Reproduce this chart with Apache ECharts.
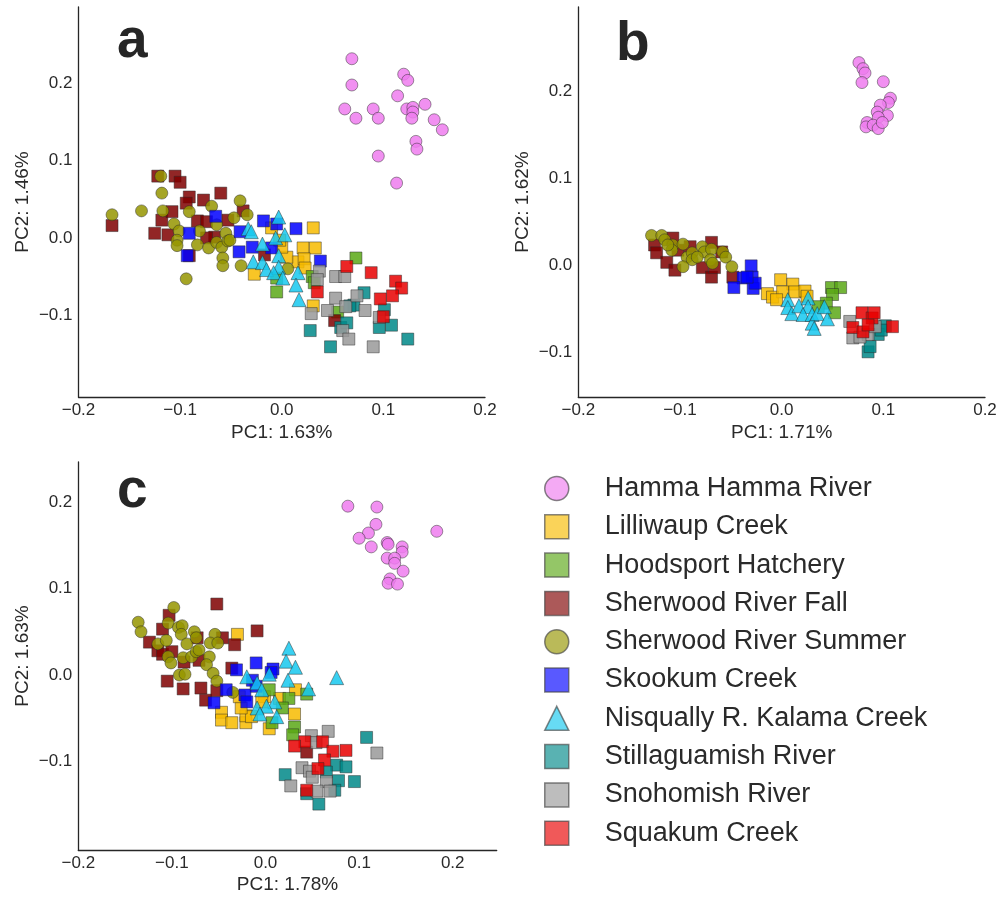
<!DOCTYPE html>
<html><head><meta charset="utf-8">
<script src="https://cdn.jsdelivr.net/npm/echarts@6/dist/echarts.min.js"></script>
<style>html,body{margin:0;padding:0;background:#fff}#c{width:1000px;height:898px}</style>
</head><body><div id="c"></div>
<script>
const groups = ['Hamma Hamma River','Lilliwaup Creek','Hoodsport Hatchery','Sherwood River Fall','Sherwood River Summer','Skookum Creek','Nisqually R. Kalama Creek','Stillaguamish River','Snohomish River','Squakum Creek'];
const groupColors = ['#ee7cee','#f7bb00','#5aa816','#7f0000','#959500','#0000ff','#16c8ee','#008888','#999999','#e80000'];
const groupSymbols = ['circle','rect','rect','rect','circle','rect','triangle','rect','rect','rect'];
const xTicks = [-0.2,-0.1,0,0.1,0.2];
const yTicks = [-0.1,0,0.1,0.2];
const panelLetters = ['a','b','c'];
const xNames = ['PC1: 1.63%','PC1: 1.71%','PC1: 1.78%'];
const yNames = ['PC2: 1.46%','PC2: 1.62%','PC2: 1.63%'];

// ---- panel a ----
const aHamma = [[0.069,0.232],[0.069,0.198],[0.120,0.212],[0.124,0.204],[0.114,0.184],[0.062,0.167],[0.073,0.155],[0.090,0.167],[0.095,0.155],[0.123,0.167],[0.129,0.169],[0.129,0.163],[0.128,0.155],[0.141,0.173],[0.150,0.153],[0.158,0.140],[0.132,0.125],[0.133,0.115],[0.095,0.106],[0.113,0.071]];
const aLilliwaup = [[0.031,0.013],[-0.010,0.013],[0.021,-0.013],[0.033,-0.013],[0.016,-0.031],[0.022,-0.027],[0.005,-0.025],[0.000,-0.012],[-0.027,-0.047],[0.031,-0.088],[0.023,-0.039],[-0.002,-0.003]];
const aHoodsport = [[0.073,-0.026],[-0.005,-0.070],[0.030,-0.050],[0.032,-0.058],[0.055,-0.096],[-0.005,-0.052]];
const aSherwoodFall = [[-0.122,0.080],[-0.105,0.080],[-0.100,0.072],[-0.091,0.053],[-0.077,0.049],[-0.060,0.058],[-0.167,0.016],[-0.118,0.023],[-0.108,0.034],[-0.125,0.006],[-0.112,0.004],[-0.083,0.022],[-0.074,0.021],[-0.053,0.023],[-0.066,0.001],[-0.074,0.000],[-0.094,0.045],[-0.091,-0.023],[-0.038,0.035],[-0.017,-0.022],[0.052,-0.107]];
const aSherwoodSummer = [[-0.119,0.080],[-0.118,0.058],[-0.138,0.035],[-0.167,0.030],[-0.117,0.035],[-0.091,0.034],[-0.106,0.018],[-0.101,0.009],[-0.103,-0.003],[-0.103,-0.010],[-0.081,0.009],[-0.083,-0.009],[-0.072,-0.013],[-0.069,0.041],[-0.064,0.017],[-0.064,-0.006],[-0.059,-0.012],[-0.055,0.006],[-0.053,-0.004],[-0.047,0.026],[-0.041,0.048],[-0.034,0.030],[-0.058,-0.026],[-0.058,-0.036],[-0.040,-0.036],[-0.094,-0.053],[0.006,-0.040],[-0.051,-0.003]];
const aSkookum = [[-0.065,0.028],[-0.091,0.006],[-0.041,0.008],[-0.018,0.022],[-0.005,0.018],[0.014,0.012],[-0.029,-0.012],[-0.042,-0.018],[-0.093,-0.023],[-0.010,-0.013],[0.038,-0.030]];
const aNisqually = [[-0.003,0.027],[-0.033,0.012],[-0.030,0.008],[-0.019,-0.008],[-0.006,0.000],[0.003,0.004],[-0.003,-0.023],[-0.028,-0.031],[-0.019,-0.032],[-0.015,-0.041],[-0.003,-0.038],[-0.008,-0.045],[0.001,-0.052],[0.016,-0.045],[0.014,-0.061],[0.017,-0.080]];
const aStillaguamish = [[0.081,-0.071],[0.071,-0.087],[0.067,-0.088],[0.101,-0.093],[0.028,-0.120],[0.058,-0.116],[0.064,-0.110],[0.048,-0.141],[0.096,-0.116],[0.108,-0.113],[0.124,-0.131]];
const aSnohomish = [[0.053,-0.050],[0.062,-0.050],[0.037,-0.043],[0.035,-0.054],[0.053,-0.078],[0.045,-0.094],[0.029,-0.098],[0.063,-0.089],[0.074,-0.075],[0.082,-0.094],[0.060,-0.120],[0.066,-0.131],[0.090,-0.141],[0.096,-0.103]];
const aSquakum = [[0.064,-0.037],[0.088,-0.045],[0.112,-0.056],[0.118,-0.065],[0.109,-0.075],[0.097,-0.079],[0.035,-0.070],[0.100,-0.102]];

// ---- panel b ----
const bHamma = [[0.076,0.233],[0.080,0.226],[0.082,0.221],[0.079,0.210],[0.100,0.211],[0.107,0.192],[0.105,0.187],[0.097,0.184],[0.094,0.176],[0.104,0.172],[0.095,0.170],[0.084,0.164],[0.083,0.159],[0.090,0.161],[0.095,0.157],[0.099,0.164]];
const bLilliwaup = [[-0.001,-0.017],[0.011,-0.022],[-0.014,-0.033],[-0.009,-0.037],[0.001,-0.031],[0.013,-0.031],[0.023,-0.030],[0.025,-0.036],[-0.005,-0.040]];
const bHoodsport = [[0.049,-0.026],[0.058,-0.026],[0.050,-0.034],[0.044,-0.044],[0.052,-0.055],[0.036,-0.048]];
const bSherwoodFall = [[-0.125,0.023],[-0.123,0.014],[-0.113,0.003],[-0.105,-0.006],[-0.107,0.031],[-0.102,0.017],[-0.090,0.021],[-0.078,-0.003],[-0.069,0.026],[-0.069,-0.014],[-0.059,0.015],[-0.066,-0.003],[-0.048,-0.014]];
const bSherwoodSummer = [[-0.128,0.034],[-0.118,0.034],[-0.115,0.029],[-0.107,0.023],[-0.108,0.017],[-0.097,0.024],[-0.093,0.009],[-0.088,0.014],[-0.088,0.006],[-0.097,-0.002],[-0.078,0.021],[-0.076,0.015],[-0.069,0.018],[-0.070,0.006],[-0.068,0.002],[-0.058,0.015],[-0.055,0.009],[-0.049,-0.002],[-0.112,0.023],[-0.083,0.009]];
const bSkookum = [[-0.030,-0.001],[-0.038,-0.015],[-0.029,-0.014],[-0.047,-0.026],[-0.028,-0.027],[-0.026,-0.021],[-0.034,-0.014]];
const bNisqually = [[0.006,-0.040],[0.006,-0.049],[0.010,-0.056],[0.017,-0.047],[0.026,-0.038],[0.026,-0.048],[0.021,-0.057],[0.030,-0.057],[0.030,-0.067],[0.035,-0.056],[0.032,-0.073],[0.045,-0.062],[0.042,-0.048]];
const bStillaguamish = [[0.085,-0.100],[0.087,-0.094],[0.102,-0.070],[0.095,-0.080],[0.098,-0.075]];
const bSnohomish = [[0.067,-0.065],[0.070,-0.084],[0.085,-0.080],[0.092,-0.071],[0.077,-0.083]];
const bSquakum = [[0.079,-0.055],[0.089,-0.061],[0.070,-0.072],[0.080,-0.077],[0.085,-0.069],[0.109,-0.071],[0.091,-0.055]];

// ---- panel c ----
const cHamma = [[0.088,0.195],[0.119,0.194],[0.118,0.174],[0.110,0.164],[0.100,0.158],[0.113,0.148],[0.130,0.153],[0.131,0.151],[0.146,0.148],[0.146,0.142],[0.130,0.135],[0.138,0.135],[0.138,0.129],[0.147,0.120],[0.133,0.111],[0.131,0.106],[0.141,0.105],[0.183,0.166]];
const cLilliwaup = [[-0.030,0.047],[-0.047,-0.043],[-0.047,-0.052],[-0.036,-0.055],[-0.021,-0.055],[-0.021,-0.047],[-0.015,-0.048],[-0.026,-0.038],[-0.028,-0.025],[-0.001,-0.025],[0.015,-0.027],[0.032,-0.017],[0.031,-0.045],[0.004,-0.062],[-0.004,-0.031]];
const cHoodsport = [[0.004,-0.017],[0.025,-0.027],[0.018,-0.038],[0.044,-0.022],[0.007,-0.055],[0.031,-0.060],[0.029,-0.069]];
const cSherwoodFall = [[-0.052,0.082],[-0.103,0.069],[-0.110,0.053],[-0.124,0.038],[-0.115,0.028],[-0.110,0.024],[-0.100,0.027],[-0.087,0.015],[-0.071,0.017],[-0.073,0.043],[-0.046,0.043],[-0.033,0.035],[-0.009,0.051],[-0.036,0.008],[-0.105,-0.007],[-0.088,-0.016],[-0.069,-0.015],[-0.064,-0.029],[-0.052,-0.018],[0.044,-0.089]];
const cSherwoodSummer = [[-0.136,0.061],[-0.133,0.050],[-0.098,0.078],[-0.104,0.060],[-0.093,0.055],[-0.089,0.057],[-0.090,0.047],[-0.115,0.036],[-0.106,0.040],[-0.084,0.036],[-0.076,0.050],[-0.074,0.043],[-0.054,0.047],[-0.059,0.037],[-0.051,0.037],[-0.104,0.021],[-0.101,0.014],[-0.088,0.020],[-0.079,0.021],[-0.074,0.027],[-0.071,0.029],[-0.060,0.021],[-0.063,0.012],[-0.056,0.002],[-0.052,-0.007],[-0.092,0.000],[-0.086,0.001],[-0.035,-0.020]];
const cSkookum = [[-0.010,0.014],[-0.031,0.006],[0.008,0.007],[-0.014,-0.006],[-0.010,-0.013],[-0.042,-0.017],[-0.022,-0.023],[-0.020,-0.031],[-0.055,-0.032],[0.006,0.003]];
const cNisqually = [[0.025,0.031],[0.022,0.016],[0.032,0.009],[-0.020,-0.002],[0.004,0.001],[-0.009,-0.009],[-0.004,-0.017],[0.024,-0.006],[0.046,-0.016],[0.010,-0.031],[0.001,-0.036],[-0.009,-0.038],[-0.006,-0.045],[0.012,-0.048],[0.076,-0.003]];
const cStillaguamish = [[0.108,-0.072],[0.076,-0.104],[0.086,-0.106],[0.065,-0.112],[0.021,-0.115],[0.078,-0.122],[0.095,-0.123],[0.074,-0.133],[0.044,-0.137],[0.057,-0.149]];
const cSnohomish = [[0.067,-0.065],[0.049,-0.070],[0.054,-0.078],[0.119,-0.090],[0.039,-0.107],[0.047,-0.111],[0.050,-0.118],[0.027,-0.128],[0.065,-0.123],[0.055,-0.134],[0.069,-0.134]];
const cSquakum = [[0.042,-0.077],[0.061,-0.077],[0.072,-0.088],[0.086,-0.087],[0.063,-0.098],[0.056,-0.108],[0.044,-0.133],[0.031,-0.082]];

const panelData = [
  [aHamma,aLilliwaup,aHoodsport,aSherwoodFall,aSherwoodSummer,aSkookum,aNisqually,aStillaguamish,aSnohomish,aSquakum],
  [bHamma,bLilliwaup,bHoodsport,bSherwoodFall,bSherwoodSummer,bSkookum,bNisqually,bStillaguamish,bSnohomish,bSquakum],
  [cHamma,cLilliwaup,cHoodsport,cSherwoodFall,cSherwoodSummer,cSkookum,cNisqually,cStillaguamish,cSnohomish,cSquakum]
];

const FONT = '"Liberation Sans", Arial, sans-serif';
const TXT = '#2a2a2a';
const grids = [
  {left:78.5, top:7, width:406.5, height:390},
  {left:578.3, top:7, width:406.7, height:390},
  {left:78.3, top:462, width:418.4, height:388}
];
const xRanges = [[-0.2,0.2],[-0.2,0.2],[-0.2,0.247]];
const yRanges = [[-0.206,0.299],[-0.152,0.297],[-0.202,0.246]];
const fmt = v => (v < -1e-9 ? '\u2212' : '') + Math.abs(v).toFixed(1);

const xAxes = [], yAxes = [];
for (let p = 0; p < 3; p++) {
  xAxes.push({type:'value', gridIndex:p, min:xRanges[p][0], max:xRanges[p][1],
    name:xNames[p], nameLocation:'middle', nameGap: p===2?25:26,
    nameTextStyle:{fontSize:19, color:TXT, fontFamily:FONT},
    axisLine:{show:true, onZero:false, lineStyle:{color:'#262626', width:1.3}},
    axisTick:{show:false}, splitLine:{show:false},
    axisLabel:{customValues:xTicks, formatter:fmt, fontSize:17, color:TXT, fontFamily:FONT, margin:5}});
  yAxes.push({type:'value', gridIndex:p, min:yRanges[p][0], max:yRanges[p][1],
    name:yNames[p], nameLocation:'middle', nameGap:46,
    nameTextStyle:{fontSize:19, color:TXT, fontFamily:FONT},
    axisLine:{show:true, onZero:false, lineStyle:{color:'#262626', width:1.3}},
    axisTick:{show:false}, splitLine:{show:false},
    axisLabel:{customValues:yTicks, formatter:fmt, fontSize:17, color:TXT, fontFamily:FONT, margin:6}});
}

const series = [];
for (let p = 0; p < 3; p++) {
  groups.forEach((g, i) => {
    series.push({type:'scatter', name:g, xAxisIndex:p, yAxisIndex:p, data:panelData[p][i],
      symbol:groupSymbols[i], symbolSize: groupSymbols[i]==='triangle' ? 14 : 12,
      itemStyle:{color:groupColors[i], opacity:0.85, borderColor:'rgba(40,40,40,0.55)', borderWidth:1},
      emphasis:{disabled:true}});
  });
}

const letterPos = [[117,14],[616,17],[117,464]];
const graphic = panelLetters.map((t, i) => ({type:'text', left:letterPos[i][0], top:letterPos[i][1],
  style:{text:t, font:'bold 55px ' + FONT, fill:'#262626'}}));

const chart = echarts.init(document.getElementById('c'), null, {renderer:'canvas'});
chart.setOption({
  animation:false,
  backgroundColor:'#fff',
  grid:grids, xAxis:xAxes, yAxis:yAxes, series:series, graphic:graphic,
  legend:{orient:'vertical', left:539, top:470, itemWidth:24, itemHeight:24, itemGap:11.3,
    data:groups, selectedMode:false,
    itemStyle:{opacity:0.65, borderColor:'#444', borderWidth:1.5},
    textStyle:{fontSize:27, lineHeight:27, color:TXT, fontFamily:FONT, padding:[0,0,0,31]}}
});
</script></body></html>
